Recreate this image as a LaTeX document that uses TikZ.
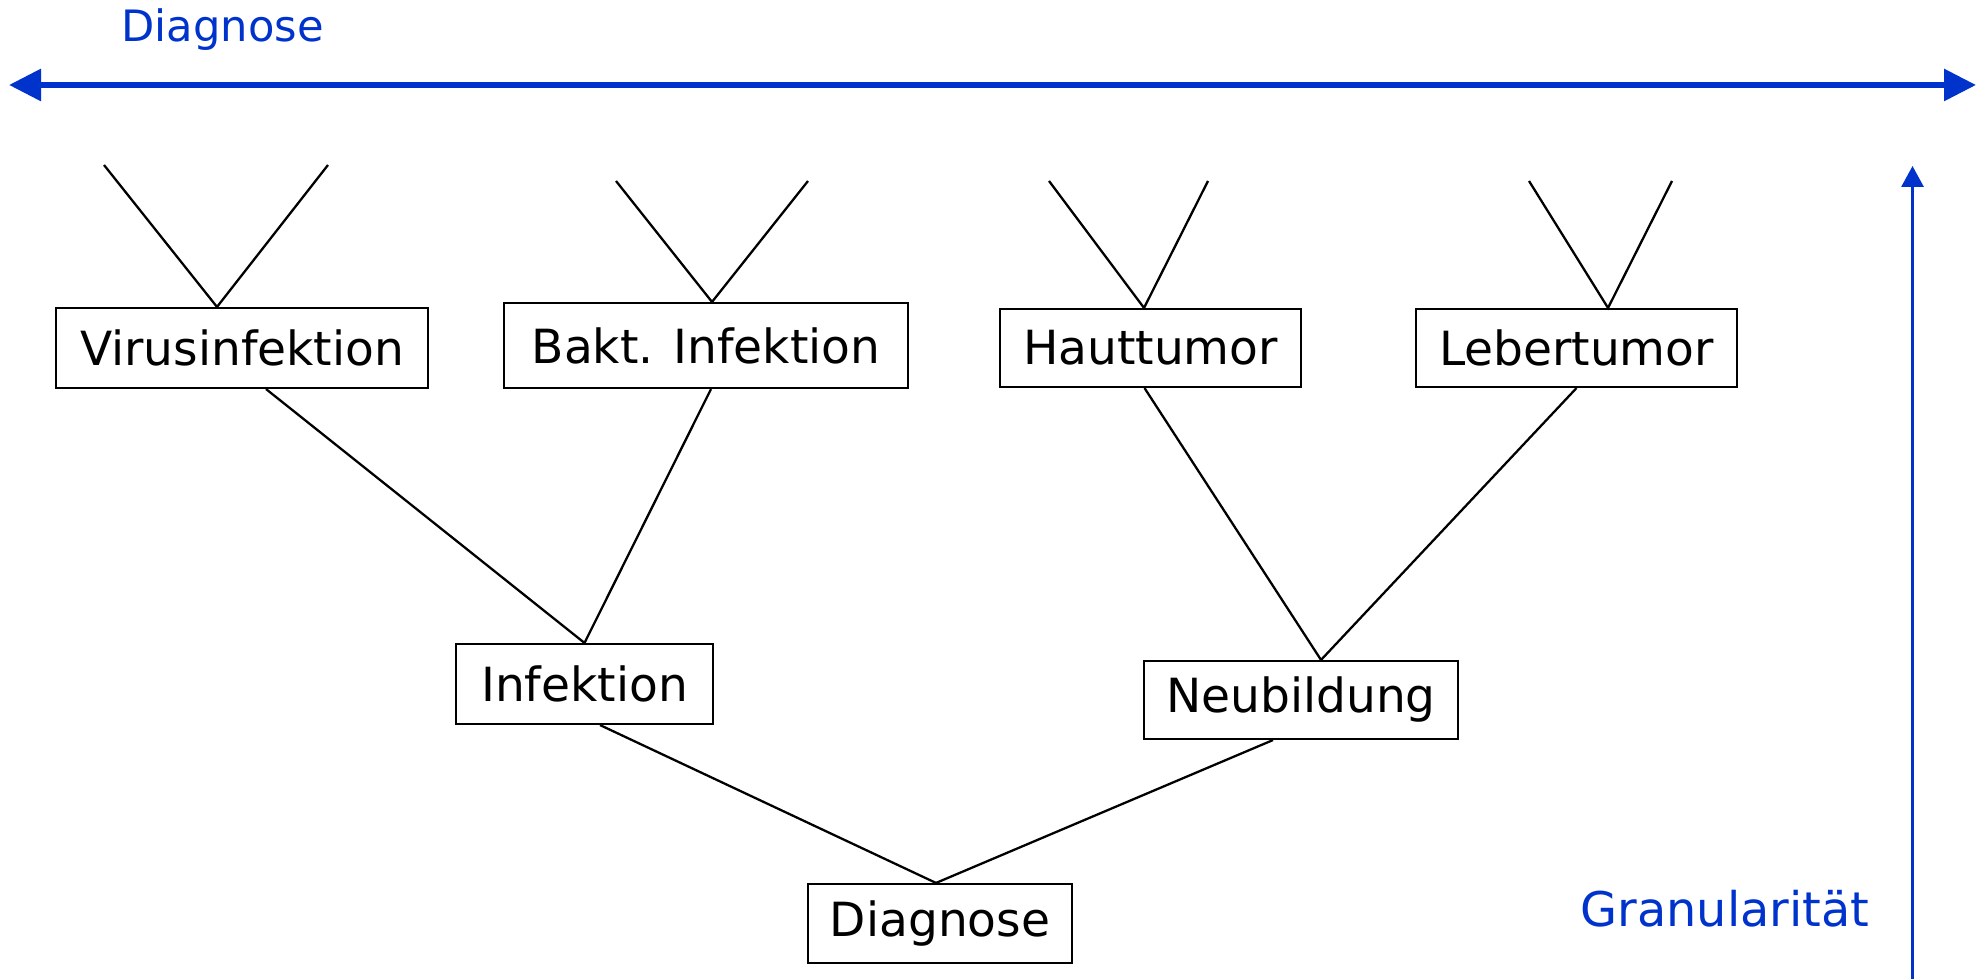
\documentclass[tikz,border=0pt]{standalone}
\usepackage{fontspec}
\setmainfont{DejaVu Sans}
\usepackage{tikz}
\usetikzlibrary{arrows.meta}
\usepackage{xcolor}
\definecolor{axisblue}{RGB}{0,51,204}

\begin{document}
\begin{tikzpicture}[
    box/.style={draw, line width=0.6pt, inner sep=0pt, font=\fontsize{13.4}{16}\selectfont},
    edge/.style={line width=0.65pt},
    axis/.style={draw=axisblue, fill=axisblue}
  ]
  \useasboundingbox (0,0) rectangle (19.78,9.79);

  % Nodes
  \node[box, minimum width=3.72cm, minimum height=0.80cm] (vi) at (2.42, 6.31) {Virusinfektion};
  \node[box, minimum width=4.04cm, minimum height=0.85cm] (bi) at (7.06, 6.335) {Bakt. Infektion};
  \node[box, minimum width=3.01cm, minimum height=0.78cm] (ht) at (11.505, 6.31) {Hauttumor};
  \node[box, minimum width=3.21cm, minimum height=0.78cm] (lt) at (15.765, 6.31) {Lebertumor};
  \node[box, minimum width=2.57cm, minimum height=0.80cm] (inf) at (5.845, 2.95) {Infektion};
  \node[box, minimum width=3.14cm, minimum height=0.78cm] (neu) at (13.01, 2.79) {Neubildung};
  \node[box, minimum width=2.64cm, minimum height=0.79cm] (dia) at (9.40, 0.555) {Diagnose};

  % Open branch ends
  \coordinate (vi1) at (1.04, 8.14);
  \coordinate (vi2) at (3.28, 8.14);
  \coordinate (bi1) at (6.16, 7.98);
  \coordinate (bi2) at (8.08, 7.98);
  \coordinate (ht1) at (10.49, 7.98);
  \coordinate (ht2) at (12.08, 7.98);
  \coordinate (lt1) at (15.29, 7.98);
  \coordinate (lt2) at (16.72, 7.98);

  % Edges
  \draw[edge] (vi1) -- ([xshift=-0.25cm]vi.north) -- (vi2);
  \draw[edge] (bi1) -- ([xshift=0.06cm]bi.north) -- (bi2);
  \draw[edge] (ht1) -- ([xshift=-0.065cm]ht.north) -- (ht2);
  \draw[edge] (lt1) -- ([xshift=0.315cm]lt.north) -- (lt2);
  \draw[edge] ([xshift=0.24cm]vi.south) -- (inf.north);
  \draw[edge] ([xshift=0.05cm]bi.south) -- (inf.north);
  \draw[edge] ([xshift=-0.06cm]ht.south) -- ([xshift=0.20cm]neu.north);
  \draw[edge] (lt.south) -- ([xshift=0.20cm]neu.north);
  \draw[edge] ([xshift=0.155cm]inf.south) -- ([xshift=-0.04cm]dia.north);
  \draw[edge] ([xshift=-0.28cm]neu.south) -- ([xshift=-0.04cm]dia.north);

  % Axes
  \coordinate (hl) at (0.09, 8.94);
  \coordinate (hr) at (19.76, 8.94);
  \coordinate (vb) at (19.125, 0);
  \coordinate (vt) at (19.125, 8.13);
  \draw[axis, line width=1.7pt, {Triangle[length=0.32cm, width=0.31cm]}-{Triangle[length=0.32cm, width=0.31cm]}] (hl) -- (hr);
  \draw[axis, line width=0.85pt, -{Triangle[length=0.21cm, width=0.22cm]}] (vb) -- (vt);

  \node[anchor=base, text=axisblue, font=\fontsize{12.3}{15}\selectfont] (top) at (2.225, 9.37) {Diagnose};
  \node[anchor=base, text=axisblue, font=\fontsize{13.6}{16}\selectfont] (gran) at (17.25, 0.52) {Granularität};
\end{tikzpicture}
\end{document}
